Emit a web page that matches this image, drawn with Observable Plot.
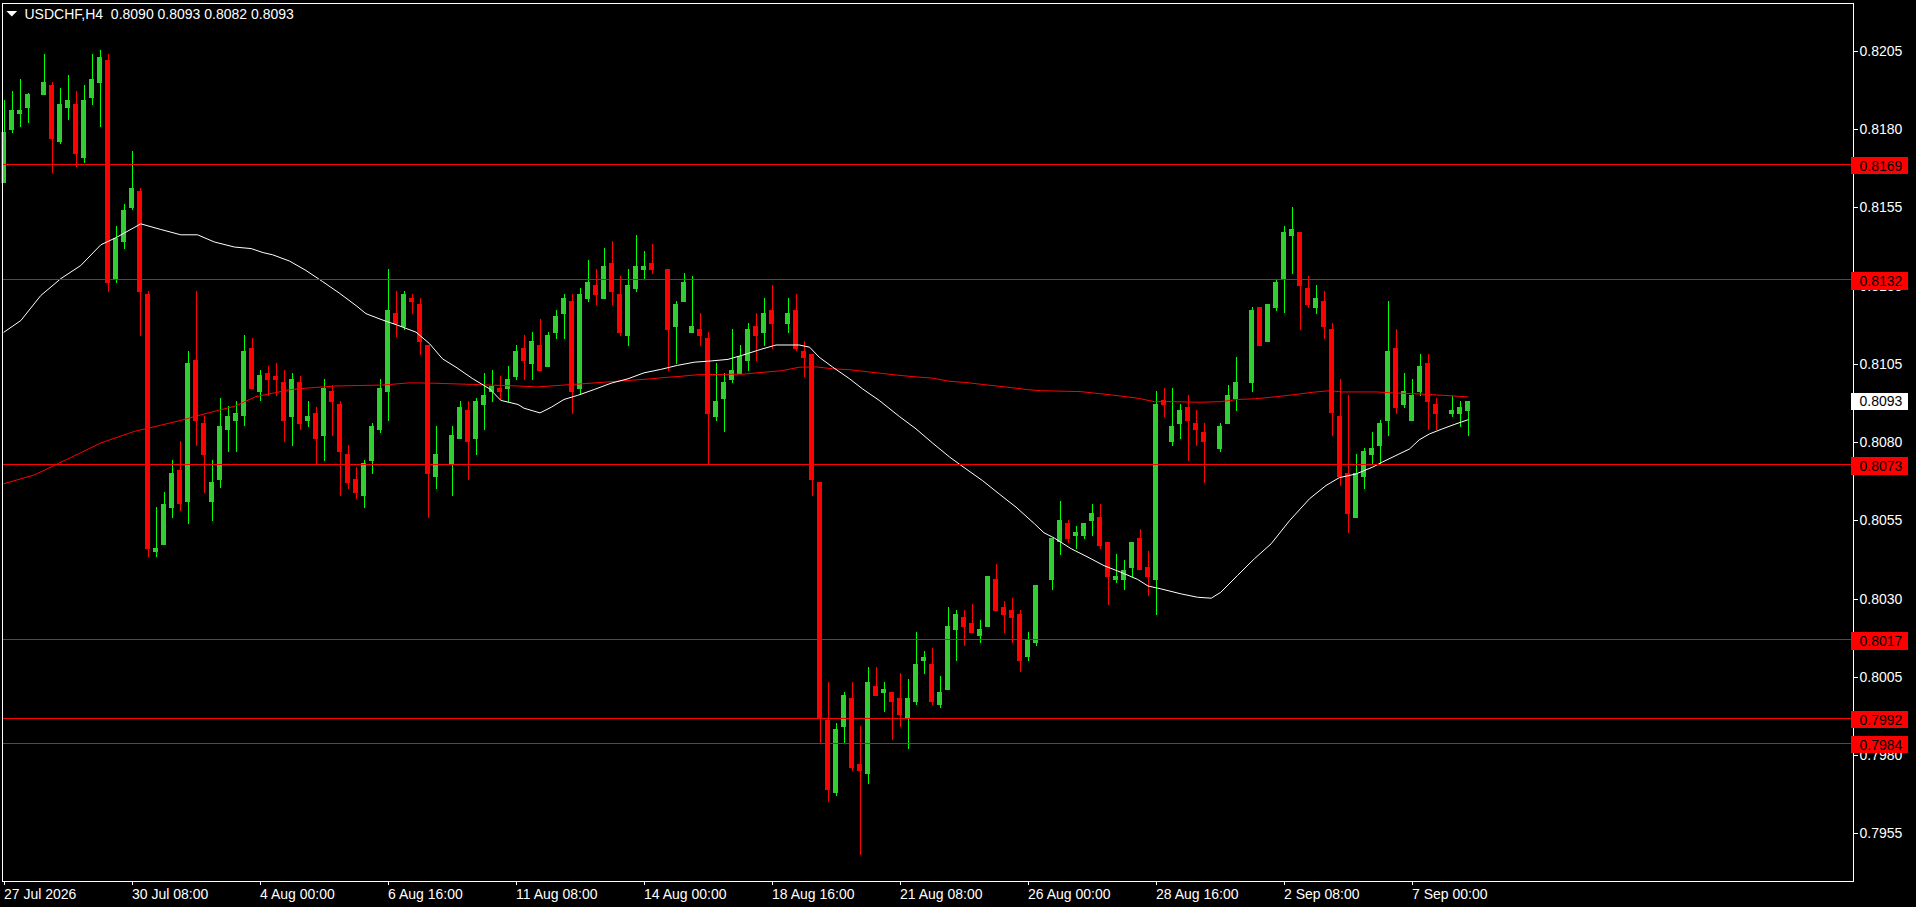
<!DOCTYPE html>
<html><head><meta charset="utf-8">
<script src="https://cdn.jsdelivr.net/npm/d3@7"></script>
<script src="https://cdn.jsdelivr.net/npm/@observablehq/plot@0.6"></script>
<style>html,body{margin:0;padding:0;background:#000;overflow:hidden}</style>
</head><body><div id="chart"></div>
<script>
const symbolTitle = "USDCHF,H4";
const lastQuote = [0.8090, 0.8093, 0.8082, 0.8093];
const timeTickIndex = [0,16,32,48,64,80,96,112,128,144,160,176];
const timeTickLabels = ["27 Jul 2026","30 Jul 08:00","4 Aug 00:00","6 Aug 16:00","11 Aug 08:00","14 Aug 00:00","18 Aug 16:00","21 Aug 08:00","26 Aug 00:00","28 Aug 16:00","2 Sep 08:00","7 Sep 00:00"];
const priceTicks = [0.7955,0.7980,0.8005,0.8030,0.8055,0.8080,0.8105,0.8130,0.8155,0.8180,0.8205];
const levels = [0.8169,0.8132,0.8073,0.8017,0.7992,0.7984];
const currentPrice = 0.8093;

const open = [
.81629,.81798,.81849,.81869,null,.81909,.81941,.81759,.81869,.81881,
.81708,.81900,.81948,.82021,.81321,.81440,.81548,.81603,.81274,.80449,
.80470,.80591,.80711,.80610,.81063,.80862,.80610,.80680,.80840,.80869,
.80882,.81101,.80961,.81020,.81011,.80992,.80881,.80992,.80869,.80893,
.80821,.80963,.80922,.80762,.80682,.80629,.80741,.80840,.80961,.81213,
.81169,.81260,.81241,.81110,.80690,null,.80729,.80811,.80903,.80811,
.80920,.80961,.80973,.80971,.81009,.81101,.81050,.81110,.81040,.81149,
.81209,.81251,.80970,.81257,.81302,.81257,.81372,.81273,.81139,.81289,
.81350,.81372,null,.81353,.81168,.81248,.81149,.81162,.81133,.80880,
.80938,.80999,.81018,.81059,.81171,.81149,.81222,null,.81178,.81222,
.81091,.81082,.80673,.79912,.79680,.79891,.79983,.79772,.79741,.80021,
.80000,.80002,.79983,.79920,.79971,.80102,.80091,.79961,.80009,.80201,
.80241,.80222,.80182,.80210,.80363,.80273,.80264,.80251,.80112,.80159,
null,.80360,.80482,.80542,.80501,.80501,.80549,.80561,.80481,.80361,
.80361,.80399,.80494,.80402,.80361,.80935,.80801,.80858,.80912,.80861,
.80832,null,.80778,.80858,.80938,null,.80989,.81232,.81120,.81229,
.81321,.81459,.81471,.81293,.81230,.81251,.81161,.80884,.80701,.80559,
.80690,.80760,.80789,.80869,.81101,.80920,.80869,.80961,.81053,.80922,
null,.80891,.80891,.80900];
const high = [
.81893,.81922,.81960,.81915,null,.82040,.81951,.81932,.81972,.81922,
.81941,.82040,.82053,.82040,.81491,.81561,.81730,.81612,.81283,.80593,
.80641,.80743,.80804,.81091,.81283,.80885,.80743,.80942,.80914,.80933,
.81143,.81133,.81032,.81043,.81052,.81030,.81021,.81011,.80931,.80912,
.81002,.80983,.80931,.80791,.80722,.80743,.80861,.81002,.81353,.81283,
.81283,.81273,.81260,.81110,.80852,null,.80852,.80931,.80931,.80941,
.81021,.81030,.81011,.81043,.81110,.81142,.81152,.81193,.81152,.81222,
.81273,.81273,.81293,.81382,.81353,.81420,.81443,.81331,.81353,.81462,
.81411,.81433,null,.81353,.81251,.81340,.81331,.81213,.81152,.81053,
.81021,.81162,.81110,.81181,.81213,.81260,.81302,null,.81261,.81273,
.81123,.81082,.80673,.80034,.79903,.80002,.80034,.79893,.80082,.80082,
.80034,.80002,.80062,.80043,.80193,.80133,.80142,.80053,.80273,.80264,
.80264,.80283,.80232,.80372,.80411,.80292,.80302,.80264,.80193,.80344,
null,.80494,.80612,.80551,.80532,.80542,.80602,.80602,.80481,.80444,
.80425,.80481,.80522,.80453,.80963,.80973,.80973,.80922,.80951,.80903,
.80861,null,.80861,.80983,.81072,null,.81232,.81232,.81241,.81318,
.81491,.81551,.81471,.81331,.81302,.81283,.81181,.81002,.80951,.80762,
.80781,.80832,.80871,.81251,.81161,.81021,.81002,.81082,.81082,.80941,
null,.80948,.80931,.80930];
const low = [
.81629,.81789,.81808,.81821,null,.81909,.81661,.81751,.81829,.81680,
.81693,.81877,.81807,.81280,.81309,.81417,.81542,.81139,.80434,.80434,
.80470,.80559,.80581,.80540,.80789,.80639,.80549,.80652,.80770,.80770,
.80850,.80971,.80930,.80949,.80949,.80801,.80789,.80840,.80849,.80729,
.80741,.80821,.80629,.80651,.80619,.80591,.80699,.80830,.80869,.81137,
.81159,.81210,.81080,.80559,.80651,null,.80629,.80811,.80680,.80760,
.80840,.80929,.80935,.80929,.81000,.81000,.81000,.81027,.81040,.81130,
.81130,.80890,.80951,.81248,.81238,.81257,.81238,.81139,.81107,.81280,
.81321,.81337,null,.81027,.81050,.81248,.81149,.81107,.80727,.80868,
.80832,.80989,.81018,.81027,.81059,.81107,.81098,null,.81149,.81091,
.81009,.80629,.79840,.79651,.79670,.79840,.79750,.79482,.79709,.79990,
.79939,.79848,.79891,.79821,.79961,.80060,.79961,.79952,.80009,.80102,
.80150,.80191,.80159,.80210,.80262,.80191,.80159,.80066,.80102,.80150,
null,.80329,.80441,.80479,.80460,.80492,.80501,.80460,.80281,.80351,
.80329,.80370,.80390,.80310,.80249,.80880,.80788,.80810,.80740,.80788,
.80671,null,.80769,.80858,.80900,null,.80960,.81107,.81120,.81219,
.81212,.81337,.81158,.81230,.81210,.81131,.80821,.80661,.80511,.80559,
.80651,.80731,.80731,.80821,.80891,.80910,.80869,.80948,.80840,.80840,
null,.80881,.80849,.80820];
const close = [
.81791,.81861,.81861,.81913,null,.81951,.81770,.81881,.81893,.81719,
.81893,.81960,.82031,.81309,.81452,.81542,.81612,.81280,.80460,.80462,
.80603,.80702,.80601,.81053,.80869,.80760,.80674,.80853,.80885,.80894,
.81091,.80971,.81013,.81000,.81000,.80869,.81002,.80859,.80884,.80811,
.80973,.80929,.80770,.80671,.80639,.80732,.80852,.80973,.81222,.81179,
.81273,.81249,.81121,.80699,.80762,null,.80823,.80912,.80801,.80931,
.80951,.80980,.80961,.81002,.81091,.81059,.81123,.81027,.81142,.81203,
.81260,.80960,.81273,.81312,.81270,.81363,.81280,.81149,.81302,.81363,
.81363,.81350,null,.81158,.81241,.81312,.81171,.81139,.80890,.80931,
.80992,.81030,.81075,.81162,.81139,.81213,.81178,null,.81213,.81098,
.81070,.80679,.79918,.79690,.79884,.79992,.79760,.79750,.80034,.79990,
.80011,.79971,.79929,.79983,.80091,.80113,.79971,.80002,.80213,.80251,
.80210,.80191,.80203,.80372,.80262,.80249,.80239,.80102,.80171,.80344,
null,.80494,.80551,.80492,.80513,.80542,.80574,.80469,.80370,.80373,
.80393,.80481,.80390,.80370,.80922,.80919,.80852,.80903,.80868,.80839,
.80801,null,.80852,.80951,.80992,null,.81222,.81107,.81241,.81312,
.81471,.81481,.81299,.81238,.81260,.81169,.80892,.80690,.80571,.80701,
.80772,.80781,.80861,.81091,.80910,.80963,.80951,.81043,.80929,.80891,
null,.80903,.80912,.80930];

const fastMaIndex = [0,2.1,4.6,7.1,9.6,12.1,14,17.1,19.6,22.1,24.2,26.3,28.8,30.9,32.4,33.6,35.7,37.75,39.8,41.9,44,45.25,47.3,49,51.5,53.2,54.8,56.5,58.6,60.7,62.1,64.25,65,67,68.4,70,71.7,73.8,75.9,78,80,82.1,84.2,86.3,88.4,90.5,92.5,94.6,96.5,99.4,100.7,101.9,103.6,105.7,107.3,109.4,111.9,114,116.1,118.2,120.25,122.3,124.4,126.5,128.8,130,131.3,133.4,135.5,137.5,139.6,141.7,143,144.6,147.1,149.2,150.9,152.1,154.2,156.3,158.4,160.7,163.2,165.25,166.9,169,171.1,172.3,174,175.7,176.9,178.2,179.8,181.5,183];
const fastMaValue = [.81153,.81190,.81270,.81324,.81366,.81432,.81455,.81499,.81481,.81464,.81464,.81441,.81425,.81420,.81407,.81400,.81380,.81350,.81315,.81278,.81238,.81212,.81192,.81177,.81153,.81116,.81068,.81041,.81004,.80972,.80935,.80922,.80910,.80895,.80913,.80938,.80951,.80970,.80990,.81004,.81023,.81034,.81047,.81057,.81061,.81066,.81081,.81098,.81112,.81112,.81105,.81073,.81041,.81004,.80972,.80935,.80884,.80844,.80798,.80754,.80716,.80679,.80636,.80594,.80541,.80512,.80495,.80461,.80434,.80407,.80386,.80363,.80342,.80333,.80317,.80306,.80303,.80322,.80376,.80429,.80477,.80551,.80621,.80663,.80688,.80700,.80722,.80738,.80759,.80780,.80809,.80828,.80844,.80860,.80873];
const slowMaIndex = [0,3.8,8,12.1,16.3,18,22.1,24.6,28.8,31.5,35.7,37.75,39.8,41.5,47.3,50.7,53.6,58.6,60.7,64.25,66.7,70.5,73.4,75.5,77.5,80,82.5,84.6,86.7,92.5,95,97.3,99.4,101.5,103.6,105.7,107.75,109.8,111.9,114,116.1,118.2,120.25,122.3,124.4,126.5,128,129.6,134.6,137.5,139.6,141.7,143.8,145.9,149.6,152.1,154.2,156.3,158.4,161.5,163.6,165.7,167.3,171.5,173.6,176.5,178.6,180.7,183];
const slowMaValue = [.80669,.80697,.80748,.80799,.80836,.80846,.80871,.80889,.80916,.80947,.80969,.80974,.80978,.80981,.80984,.80991,.80990,.80986,.80984,.80981,.80978,.80985,.80990,.80994,.80998,.81002,.81008,.81012,.81017,.81019,.81025,.81030,.81041,.81042,.81036,.81033,.81027,.81021,.81015,.81010,.81006,.80996,.80992,.80986,.80980,.80974,.80969,.80966,.80963,.80955,.80949,.80942,.80931,.80931,.80929,.80931,.80938,.80940,.80945,.80954,.80961,.80966,.80962,.80962,.80959,.80956,.80953,.80950,.80946];

// ---- build tables ----
const candles = open.map((o, i) => o == null ? null : ({
  i, open: o, high: high[i], low: low[i], close: close[i], up: close[i] >= o
})).filter(Boolean);
const fastMa = fastMaIndex.map((x, k) => ({x, v: fastMaValue[k]}));
const slowMa = slowMaIndex.map((x, k) => ({x, v: slowMaValue[k]}));
const labelOf = new Map(timeTickIndex.map((t, k) => [t, timeTickLabels[k]]));
const fmt = d3.format(".4f");

const BULL_BODY = "#32cd32", BULL_WICK = "#00ff00", BEAR = "#ff0000";
const xDomain = [-0.25, 231.125];
const yDomain = [0.793995, 0.822046];

const flatDown = {
  draw(ctx, size) {
    const r = Math.sqrt(size / Math.PI);
    ctx.moveTo(-r * 1.2, -r * 0.6);
    ctx.lineTo(r * 1.2, -r * 0.6);
    ctx.lineTo(0, r * 0.6);
    ctx.closePath();
  }
};

const chart = Plot.plot({
  width: 1916, height: 907,
  marginLeft: 1.5, marginRight: 63.5, marginTop: 2.5, marginBottom: 26.5,
  style: {background: "#000", color: "#fff", fontFamily: "'Liberation Sans', Arial, sans-serif", fontSize: "14px"},
  x: {domain: xDomain, axis: null},
  y: {domain: yDomain, axis: null},
  color: {type: "identity"},
  marks: [
    Plot.ruleX(candles, {x: "i", y1: "low", y2: "high", stroke: d => d.up ? BULL_WICK : BEAR, strokeWidth: 1, shapeRendering: "crispEdges", clip: true}),
    Plot.rect(candles, {x1: "i", x2: "i", y1: "open", y2: "close", insetLeft: -2.5, insetRight: -2.5, fill: d => d.up ? BULL_BODY : BEAR, shapeRendering: "crispEdges", clip: true}),
    Plot.line(slowMa, {x: "x", y: "v", stroke: "#ff0000", strokeWidth: 1, clip: true}),
    Plot.line(fastMa, {x: "x", y: "v", stroke: "#ffffff", strokeWidth: 1, clip: true}),
    Plot.ruleY(levels, {y: d => d, stroke: "#ff0000", strokeWidth: 1, shapeRendering: "crispEdges"}),
    Plot.frame({stroke: "#ffffff", shapeRendering: "crispEdges"}),
    Plot.axisY({anchor: "right", ticks: priceTicks, tickFormat: fmt, tickSize: 4, tickPadding: 2.5, fontSize: 14, label: null, shapeRendering: "crispEdges"}),
    Plot.axisX({anchor: "bottom", ticks: timeTickIndex, tickFormat: d => labelOf.get(d), tickSize: 4, tickPadding: 4, textAnchor: "start", fontSize: 14, label: null, shapeRendering: "crispEdges"}),
    Plot.rect(levels, {x1: () => xDomain[1], x2: () => xDomain[1], y1: d => d, y2: d => d, insetLeft: -1.5, insetRight: -55.5, insetTop: -7, insetBottom: -10.5, fill: "#ff0000", shapeRendering: "crispEdges"}),
    Plot.text(levels, {y: d => d, frameAnchor: "right", dx: 6.5, dy: 2, textAnchor: "start", text: fmt, fill: "#000", fontSize: 14}),
    Plot.rect([currentPrice], {x1: () => xDomain[1], x2: () => xDomain[1], y1: d => d, y2: d => d, insetLeft: -1.5, insetRight: -55.5, insetTop: -8.5, insetBottom: -8.5, fill: "#ffffff", shapeRendering: "crispEdges"}),
    Plot.text([currentPrice], {y: d => d, frameAnchor: "right", dx: 6.5, textAnchor: "start", text: fmt, fill: "#000", fontSize: 14}),
    Plot.dot([symbolTitle], {frameAnchor: "top-left", dx: 9.8, dy: 10.8, symbol: flatDown, r: 4.5, fill: "#ffffff", stroke: null}),
    Plot.text([symbolTitle + "\u00a0\u00a0" + lastQuote.map(fmt).join(" ")], {frameAnchor: "top-left", dx: 22.5, dy: 6, lineAnchor: "top", textAnchor: "start", text: d => d, fill: "#ffffff", fontSize: 14})
  ]
});
document.getElementById("chart").appendChild(chart);
</script>
</body></html>
